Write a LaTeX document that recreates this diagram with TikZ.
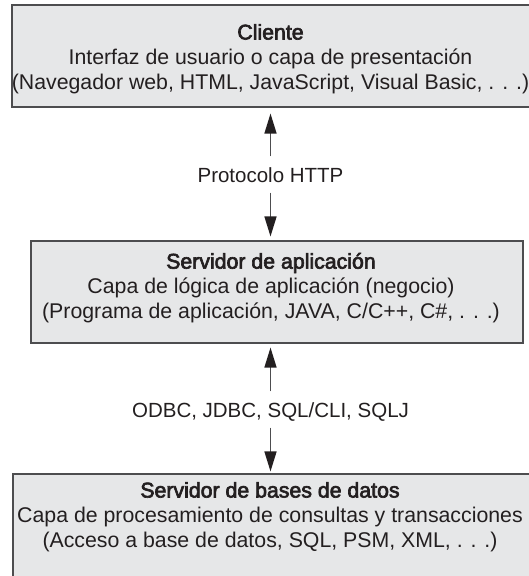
\documentclass[tikz,border=0pt]{standalone}
\usepackage{fontspec}
\setmainfont{Liberation Sans}
\newfontfamily\headfont[FakeBold=3]{Liberation Sans}
\usetikzlibrary{arrows.meta,positioning}
\definecolor{tiergray}{HTML}{4D4D4F}
\definecolor{tierfill}{HTML}{E6E7E8}
\definecolor{tierink}{HTML}{231F20}

\begin{document}
\begin{tikzpicture}[
  x=1pt,y=-1pt,
  tier/.style={draw=tiergray,fill=tierfill,line width=1.1pt,inner sep=0pt},
  tiertext/.style={text=tierink,align=center,font=\fontsize{21.3}{25}\selectfont},
  proto/.style={text=tierink,text height=15pt,text depth=0pt,inner ysep=10.5pt,anchor=base},
  link/.style={draw=tiergray,line width=1.4pt,-{Triangle[length=20pt,width=12pt,color=tierink]}},
  every node/.style={font=\fontsize{20.5}{25}\selectfont}
]
  \useasboundingbox (0,0) rectangle (529,576);
  % the three tiers
  \node[tier,minimum width=533pt,minimum height=102pt] (cliente) at (278.5,56) {};
  \node[tier,minimum width=492pt,minimum height=102pt] (aplicacion) at (277,292) {};
  \node[tier,minimum width=532pt,minimum height=146pt] (datos) at (279,547) {};
  \node[tiertext] (clientetxt) at (270.5,59)
    {{\headfont Cliente}\\Interfaz de usuario o capa de presentación\\
     (Navegador web, HTML, JavaScript, Visual Basic, . . .)};
  \node[tiertext] (aplicaciontxt) at (271,288)
    {{\headfont Servidor de aplicación}\\Capa de lógica de aplicación (negocio)\\
     (Programa de aplicación, JAVA, C/C++, C\#, . . .)};
  \node[tiertext] (datostxt) at (270,517)
    {{\headfont Servidor de bases de datos}\\Capa de procesamiento de consultas y transacciones\\
     (Acceso a base de datos, SQL, PSM, XML, . . .)};
  % protocols between tiers
  \node[proto] (http) at (270.5,182) {Protocolo HTTP};
  \node[proto] (odbc) at (270.5,417) {ODBC, JDBC, SQL/CLI, SQLJ};
  \draw[link,shorten >=6pt] (http.north) -- (http.north |- cliente.south);
  \draw[link,shorten >=4pt] (http.south) -- (http.south |- aplicacion.north);
  \draw[link,shorten >=4pt] (odbc.north) -- (odbc.north |- aplicacion.south);
  \draw[link,shorten >=2pt] (odbc.south) -- (odbc.south |- datos.north);
\end{tikzpicture}
\end{document}
